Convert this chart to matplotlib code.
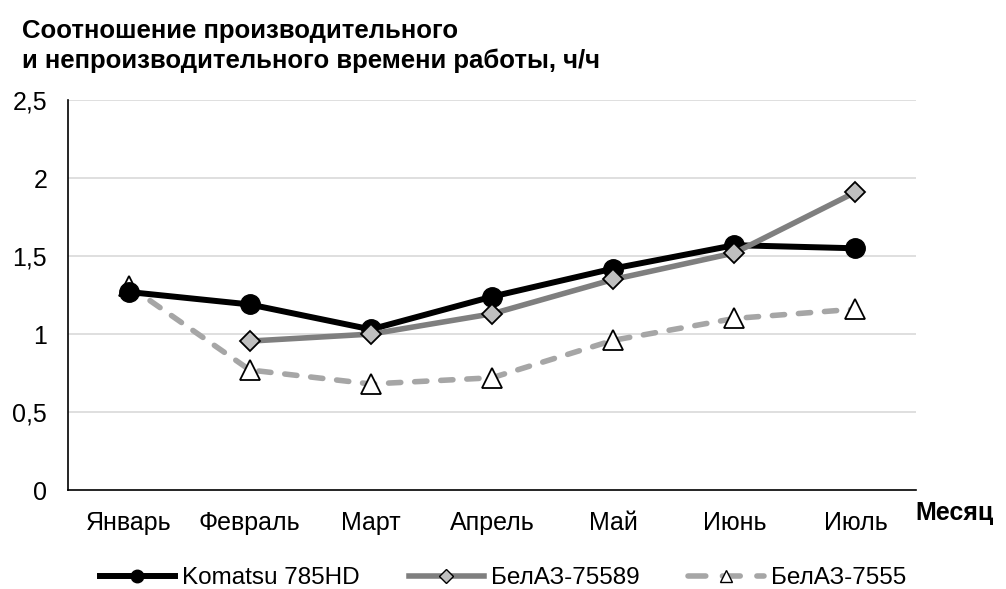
import matplotlib
matplotlib.use("Agg")
import matplotlib.pyplot as plt
from matplotlib.lines import Line2D

months = ["Январь", "Февраль", "Март", "Апрель", "Май", "Июнь", "Июль"]
komatsu = [1.27, 1.19, 1.03, 1.24, 1.42, 1.57, 1.55]
belaz_75589 = [None, 0.955, 1.0, 1.13, 1.35, 1.52, 1.91]
belaz_7555 = [1.31, 0.77, 0.68, 0.72, 0.96, 1.10, 1.16]
yticks = [0, 0.5, 1, 1.5, 2, 2.5]
ytick_labels = ["0", "0,5", "1", "1,5", "2", "2,5"]

plt.rcParams['font.family'] = ['Liberation Sans', 'DejaVu Sans']

fig = plt.figure(figsize=(10.06, 5.89), dpi=100)
ax = fig.add_axes([0.0676, 0.168, 0.843, 0.662])

x = list(range(len(months)))
x2 = [i for i, v in zip(x, belaz_75589) if v is not None]
y2 = [v for v in belaz_75589 if v is not None]

ax.plot(x, belaz_7555, color='#a6a6a6', lw=4, linestyle=(0, (2.2, 2.5)),
        dash_capstyle='round', marker='^', markersize=14, markerfacecolor='white',
        markeredgecolor='black', markeredgewidth=1.3, zorder=2)
ax.plot(x, komatsu, color='black', lw=4.3, marker='o', markersize=14,
        markerfacecolor='black', markeredgecolor='black', zorder=3)
ax.plot(x2, y2, color='#7f7f7f', lw=4, marker='D', markersize=10,
        markerfacecolor='#bfbfbf', markeredgecolor='black', markeredgewidth=1.3, zorder=4)

ax.set_xlim(-0.5, 6.5)
ax.set_ylim(0, 2.5)
ax.set_yticks(yticks)
ax.set_yticklabels(ytick_labels)
ax.set_xticks(x)
ax.set_xticklabels(months)
ax.tick_params(axis='both', length=0, labelsize=18)
ax.tick_params(axis='y', pad=15)
ax.tick_params(axis='x', pad=15)
for yt in yticks[1:]:
    ax.axhline(yt, color='#d9d9d9', lw=1.2, zorder=0)
for s in ['top', 'right']:
    ax.spines[s].set_visible(False)
ax.spines['left'].set_linewidth(1.2)
ax.spines['bottom'].set_linewidth(1.2)

fig.text(0.022, 0.922, "Соотношение производительного\nи непроизводительного времени работы, ч/ч",
         fontsize=18.5, fontweight='bold', ha='left', va='center', linespacing=1.32)
fig.text(0.910, 0.129, "Месяц", fontsize=18, fontweight='bold', ha='left', va='center')

handles = [
    Line2D([], [], color='black', lw=4.3, marker='o', markersize=9, markerfacecolor='black'),
    Line2D([], [], color='#7f7f7f', lw=4, marker='D', markersize=7,
           markerfacecolor='#bfbfbf', markeredgecolor='black', markeredgewidth=1),
    Line2D([], [], color='#a6a6a6', lw=4, linestyle=(0, (3.2, 3.0)), dash_capstyle='round',
           marker='^', markersize=8, markerfacecolor='white', markeredgecolor='black',
           markeredgewidth=1),
]
fig.legend(handles, ["Komatsu 785HD", "БелАЗ-75589", "БелАЗ-7555"], loc='center',
           bbox_to_anchor=(0.5, 0.018), ncol=3, frameon=False, fontsize=17.5,
           handlelength=3.1, columnspacing=2.0, handletextpad=0.3)

fig.savefig("out.png", dpi=100)
